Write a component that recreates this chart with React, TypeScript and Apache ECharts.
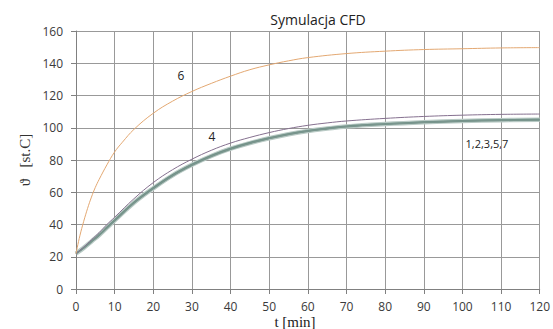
import React, { useEffect, useRef } from "react";
import * as echarts from "echarts";

const timesBand = [0, 2, 4, 6, 8, 10, 15, 20, 25, 30, 35, 40, 45, 50, 55, 60, 65, 70, 80, 90, 100, 110, 120];
const band1 = [22, 25.5, 29.5, 33.5, 38, 42.5, 53.5, 62.5, 70.5, 77, 82.5, 87, 90.5, 93.5, 96, 98, 99.5, 100.8, 102.3, 103.4, 104.2, 104.7, 105];
const band2 = [22, 25.7, 29.8, 33.8, 38.4, 42.9, 53.9, 62.9, 70.9, 77.4, 82.9, 87.4, 90.9, 93.9, 96.4, 98.4, 99.9, 101.1, 102.6, 103.7, 104.5, 105, 105.3];
const band3 = [22, 25.3, 29.2, 33.2, 37.7, 42.1, 53.1, 62.1, 70.1, 76.6, 82.1, 86.6, 90.2, 93.2, 95.7, 97.7, 99.2, 100.5, 102, 103.1, 103.9, 104.4, 104.7];
const band5 = [22, 25.6, 29.6, 33.6, 38.2, 42.7, 53.7, 62.7, 70.7, 77.2, 82.7, 87.2, 90.7, 93.7, 96.2, 98.2, 99.7, 101, 102.4, 103.5, 104.3, 104.8, 105.1];
const band7 = [22, 25.4, 29.4, 33.4, 37.9, 42.3, 53.3, 62.3, 70.3, 76.8, 82.3, 86.8, 90.4, 93.4, 95.9, 97.9, 99.4, 100.7, 102.2, 103.3, 104.1, 104.6, 104.9];
const curve4 = [22, 26, 30.5, 35, 40, 44.5, 56, 66, 74, 80.5, 86, 90.5, 94, 97, 99.5, 101.5, 103, 104.2, 105.8, 107, 107.8, 108.3, 108.5];

const times6 = [0, 1, 2, 3, 4, 5, 6, 8, 10, 12, 15, 20, 25, 30, 35, 40, 45, 50, 55, 60, 70, 80, 90, 100, 110, 120];
const curve6 = [22, 33, 42, 50, 57, 63, 68, 77, 85, 91, 99, 109, 116.5, 122.5, 127.5, 132, 136, 139, 141.5, 143.5, 146, 147.5, 148.5, 149, 149.5, 149.7];

const xTicks = { min: 0, max: 120, interval: 10 };
const yTicks = { min: 0, max: 160, interval: 20 };

const pair = (xs: number[], ys: number[]) => xs.map((x, i) => [x, ys[i]]);

export default function App() {
  const ref = useRef<HTMLDivElement>(null);
  useEffect(() => {
    const chart = echarts.init(ref.current!, null, { renderer: "svg" });
    const line = (name: string, data: number[][], color: string, width: number) => ({
      name,
      type: "line",
      data,
      smooth: 0.4,
      showSymbol: false,
      lineStyle: { color, width },
      z: 3,
    });
    chart.setOption({
      animation: false,
      backgroundColor: "#ffffff",
      title: {
        text: "Symulacja CFD",
        left: 313,
        textAlign: "center",
        top: 7,
        textStyle: { fontFamily: "Open Sans", fontSize: 14, fontWeight: "normal", color: "#222" },
      },
      grid: { left: 76, right: 13, top: 31, bottom: 40 },
      xAxis: {
        type: "value",
        ...xTicks,
        axisLine: { show: true, lineStyle: { color: "#808080", width: 1 } },
        axisTick: { show: true, inside: false, length: 5, lineStyle: { color: "#808080" } },
        splitLine: { show: true, lineStyle: { color: "#999999", width: 1 } },
        axisLabel: { fontFamily: "Open Sans", fontSize: 12, color: "#3a3a3a", margin: 11 },
      },
      yAxis: {
        type: "value",
        ...yTicks,
        axisLine: { show: true, lineStyle: { color: "#808080", width: 1 } },
        axisTick: { show: true, inside: false, length: 5, lineStyle: { color: "#808080" } },
        splitLine: { show: true, lineStyle: { color: "#999999", width: 1 } },
        axisLabel: { fontFamily: "Open Sans", fontSize: 12, color: "#3a3a3a", margin: 13 },
      },
      graphic: [
        { type: "text", x: 295, y: 322, style: { text: "t [min]", fontFamily: "Liberation Serif", fontSize: 15, fill: "#222", align: "center", verticalAlign: "middle" } },
        { type: "text", x: 25, y: 160, rotation: Math.PI / 2, style: { text: "ϑ   [st.C]", fontFamily: "Liberation Serif", fontSize: 15, fill: "#333", align: "center", verticalAlign: "middle" } },
        { type: "text", x: 181, y: 75, style: { text: "6", fontFamily: "Open Sans", fontSize: 12, fill: "#222", align: "center", verticalAlign: "middle" } },
        { type: "text", x: 212, y: 136, style: { text: "4", fontFamily: "Open Sans", fontSize: 12, fill: "#222", align: "center", verticalAlign: "middle" } },
        { type: "text", x: 487, y: 143, style: { text: "1,2,3,5,7", fontFamily: "Open Sans", fontSize: 11, fill: "#222", align: "center", verticalAlign: "middle" } },
      ],
      series: [
        line("1", pair(timesBand, band1), "#b9cac5", 4.5),
        line("2", pair(timesBand, band2), "#8fa9a0", 1.2),
        line("3", pair(timesBand, band3), "#7d9890", 1.2),
        line("5", pair(timesBand, band5), "#6f8f86", 1.5),
        line("7", pair(timesBand, band7), "#7a968e", 1.2),
        line("4", pair(timesBand, curve4), "#85708f", 1),
        line("6", pair(times6, curve6), "#e3a872", 1),
      ],
    });
    return () => chart.dispose();
  }, []);
  return <div ref={ref} style={{ position: "fixed", left: 0, top: 0, width: 553, height: 329 }} />;
}
